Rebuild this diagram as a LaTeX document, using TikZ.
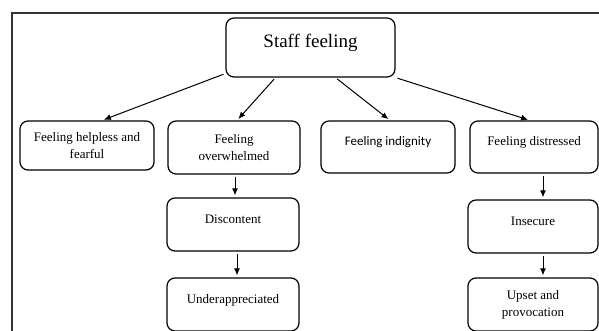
\documentclass[tikz,border=0pt]{standalone}
\usepackage{fontspec}
\setmainfont{Liberation Serif}
\newfontfamily\calibrifont{Carlito}
\usetikzlibrary{arrows.meta}

\begin{document}
\begin{tikzpicture}[x=1pt,y=-1pt,
    main_box/.style={draw=black,line width=1.2pt,rounded corners=8pt,minimum width=169pt,minimum height=59pt,
      font=\fontsize{19}{23}\selectfont,text height=13pt,text depth=13pt},
    feeling_box/.style={draw=black,line width=1.2pt,rounded corners=8pt,minimum height=53pt,
      align=center,font=\fontsize{13}{17}\selectfont,inner sep=2pt},
    single_line/.style={text height=9pt,text depth=12pt},
    frame_line/.style={draw=black!80,line width=1.2pt},
    arrow_edge/.style={black,line width=1pt,-{Latex[length=7pt,width=6pt]},shorten <=2pt,shorten >=2pt}]
  \useasboundingbox (0,0) rectangle (599,331);
  % outer frame, cut off at the right and bottom
  \draw[frame_line] (12.00,331.00) -- (12.00,13.00) -- (599.00,13.00);
\node[main_box] (staff) at (310.50,47.50) {Staff feeling};
\node[feeling_box,minimum width=134pt,minimum height=49pt] (helpless) at (87.00,145.50) {Feeling helpless and\\fearful};
\node[feeling_box,minimum width=132pt] (overwhelmed) at (234.00,147.50) {Feeling\\overwhelmed};
\node[feeling_box,single_line,minimum width=134pt,minimum height=52pt,font=\calibrifont\fontsize{13}{17}\selectfont] (indignity) at (388.00,147.00) {Feeling indignity};
\node[feeling_box,single_line,minimum width=128pt,minimum height=52pt] (distressed) at (534.00,147.00) {Feeling distressed};
\node[feeling_box,single_line,minimum width=132pt] (discontent) at (233.00,224.50) {Discontent};
\node[feeling_box,single_line,minimum width=132pt] (underappreciated) at (233.00,304.50) {Underappreciated};
\node[feeling_box,single_line,minimum width=130pt] (insecure) at (533.00,226.50) {Insecure};
\node[feeling_box,minimum width=130pt] (upset) at (533.00,304.50) {Upset and\\provocation};
\draw[arrow_edge] (staff.197) -- ([xshift=15pt]helpless.north);
\draw[arrow_edge] ([xshift=-35pt]staff.south) -- ([xshift=3pt]overwhelmed.north);
\draw[arrow_edge] ([xshift=25pt]staff.south) -- ([xshift=2pt]indignity.north);
\draw[arrow_edge] (staff.south east) -- ([xshift=-4pt]distressed.north);
\draw[arrow_edge] ([xshift=1pt]overwhelmed.south) -- ([xshift=2pt]discontent.north);
\draw[arrow_edge] ([xshift=4pt]discontent.south) -- ([xshift=4pt]underappreciated.north);
\draw[arrow_edge] ([xshift=9pt]distressed.south) -- ([xshift=10pt]insecure.north);
\draw[arrow_edge] ([xshift=10pt]insecure.south) -- ([xshift=10pt]upset.north);
\end{tikzpicture}
\end{document}
